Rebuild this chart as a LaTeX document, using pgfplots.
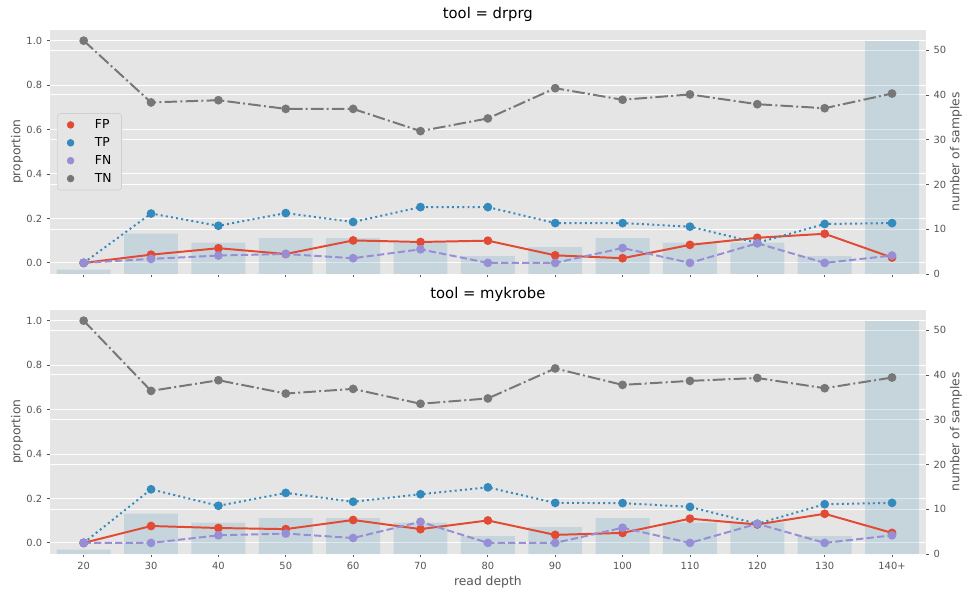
\documentclass[border=0pt]{standalone}
\usepackage{fontspec}
\setmainfont{DejaVu Sans}
\usepackage{pgfplots}
\usepackage{pgfplotstable}
\pgfplotsset{compat=1.18}

\definecolor{bgc}{HTML}{E5E5E5}
\definecolor{fpc}{HTML}{E24A33}
\definecolor{tpc}{HTML}{348ABD}
\definecolor{fnc}{HTML}{988ED5}
\definecolor{tnc}{HTML}{777777}
\definecolor{txtc}{HTML}{555555}
\definecolor{barc}{HTML}{4A90B8}
\definecolor{legedge}{HTML}{D0D0D0}

% x: read-depth bin index, n: number of samples, then proportions
\pgfplotstableread{
x n  FP    TP    FN    TN
0  1 0.000 0.000 0.000 1.000
1  9 0.037 0.222 0.018 0.722
2  7 0.066 0.167 0.033 0.732
3  8 0.040 0.224 0.040 0.693
4  8 0.101 0.184 0.021 0.693
5  7 0.094 0.251 0.061 0.593
6  4 0.100 0.251 0.000 0.650
7  6 0.034 0.179 0.000 0.786
8  8 0.021 0.179 0.067 0.734
9  7 0.081 0.163 0.000 0.758
10 7 0.113 0.090 0.088 0.714
11 4 0.131 0.175 0.000 0.696
12 52 0.024 0.179 0.033 0.762
}\drprg

\pgfplotstableread{
x n  FP    TP    FN    TN
0  1 0.000 0.000 0.000 1.000
1  9 0.076 0.241 0.000 0.684
2  7 0.067 0.167 0.034 0.732
3  8 0.062 0.225 0.042 0.672
4  8 0.103 0.185 0.022 0.693
5  7 0.062 0.219 0.095 0.626
6  4 0.101 0.250 0.000 0.650
7  6 0.036 0.180 0.000 0.785
8  8 0.045 0.179 0.068 0.711
9  7 0.109 0.162 0.000 0.729
10 7 0.083 0.086 0.086 0.742
11 4 0.131 0.174 0.000 0.696
12 52 0.045 0.180 0.034 0.744
}\mykrobe

\pgfplotsset{
  base/.style={
    scale only axis, width=709.3pt, height=198pt,
    xmin=-0.5, xmax=12.5, xtick={0,...,12},
    axis line style={draw=none},
    tick align=outside, major tick length=2.8pt,
    tick style={line width=0.65pt, color=txtc},
    tick label style={font=\fontsize{8}{10}\selectfont, text=txtc},
    label style={font=\fontsize{10}{12}\selectfont, text=txtc},
    /pgf/number format/assume math mode=true,
    clip=false,
  },
  leftax/.style={
    base, ymin=-0.05, ymax=1.05,
    ytick={0,0.2,0.4,0.6,0.8,1.0},
    yticklabel style={/pgf/number format/.cd, fixed, fixed zerofill, precision=1},
  },
  gridded/.style={ymajorgrids, major grid style={white, line width=0.8pt}},
  rightax/.style={
    base, ymin=0, ymax=54.6, ytick={0,10,...,50},
    hide x axis, ytick pos=right, yticklabel pos=right,
    ylabel={number of samples},
    ylabel style={at={(axis description cs:1.0346,0.5)}, anchor=center, rotate=0},
  },
  bars/.style={ybar, bar width=0.8, fill=barc, fill opacity=0.2, draw=none},
  ln/.style={line width=1.6pt, mark=*, mark size=2.7pt, mark options={solid}, forget plot},
  fpl/.style={ln, fpc},
  tpl/.style={ln, tpc, dash pattern=on 1.6pt off 2.6pt},
  fnl/.style={ln, fnc, dash pattern=on 5.9pt off 2.6pt},
  tnl/.style={ln, tnc, dash pattern=on 10.2pt off 2.6pt on 1.6pt off 2.6pt},
  ttl/.style={title style={at={(axis description cs:0.5,1)}, anchor=center, yshift=6.5pt, font=\fontsize{12}{14}\selectfont, text=black}},
  dotkey/.style={only marks, mark=*, mark size=2.7pt, mark options={solid}},
}

\begin{document}
\begin{tikzpicture}
\useasboundingbox (0,0) rectangle (779.2pt,477.9pt);

% ---------- tool = drprg ----------
\begin{axis}[leftax, gridded, ttl, at={(40.5pt,255.96pt)}, anchor=south west,
  axis background/.style={fill=bgc},
  xtick pos=left, ytick pos=left, xticklabels={},
  title={tool = drprg},
  ylabel={proportion},
  ylabel style={at={(axis description cs:-0.0377,0.5)}, anchor=center}]
\end{axis}
\begin{axis}[rightax, gridded, at={(40.5pt,255.96pt)}, anchor=south west]
  \addplot[bars] table[x=x, y=n] {\drprg};
\end{axis}
\begin{axis}[leftax, hide axis, at={(40.5pt,255.96pt)}, anchor=south west,
  legend style={at={(axis description cs:0.008,0.5)}, anchor=west,
    fill=bgc, draw=legedge, rounded corners=2.5pt, line width=0.6pt,
    inner xsep=8pt, inner ysep=4.5pt, row sep=5pt, column sep=17pt,
    nodes={inner sep=0pt, text height=7.5pt, text depth=2pt},
    font=\fontsize{10}{12}\selectfont},
  legend cell align=left]
  \addlegendimage{dotkey, fpc}
  \addlegendimage{dotkey, tpc}
  \addlegendimage{dotkey, fnc}
  \addlegendimage{dotkey, tnc}
  \addplot[fpl] table[x=x, y=FP] {\drprg};
  \addplot[tpl] table[x=x, y=TP] {\drprg};
  \addplot[fnl] table[x=x, y=FN] {\drprg};
  \addplot[tnl] table[x=x, y=TN] {\drprg};
  \legend{FP, TP, FN, TN}
\end{axis}

% ---------- tool = mykrobe ----------
\begin{axis}[leftax, gridded, ttl, at={(40.5pt,29.16pt)}, anchor=south west,
  axis background/.style={fill=bgc},
  xtick pos=left, ytick pos=left,
  xticklabels={20,30,40,50,60,70,80,90,100,110,120,130,140+},
  title={tool = mykrobe},
  xlabel={read depth},
  xlabel style={at={(axis description cs:0.5,-0.1145)}, anchor=center},
  ylabel={proportion},
  ylabel style={at={(axis description cs:-0.0377,0.5)}, anchor=center}]
\end{axis}
\begin{axis}[rightax, gridded, at={(40.5pt,29.16pt)}, anchor=south west]
  \addplot[bars] table[x=x, y=n] {\mykrobe};
\end{axis}
\begin{axis}[leftax, hide axis, at={(40.5pt,29.16pt)}, anchor=south west]
  \addplot[fpl] table[x=x, y=FP] {\mykrobe};
  \addplot[tpl] table[x=x, y=TP] {\mykrobe};
  \addplot[fnl] table[x=x, y=FN] {\mykrobe};
  \addplot[tnl] table[x=x, y=TN] {\mykrobe};
\end{axis}
\end{tikzpicture}
\end{document}
